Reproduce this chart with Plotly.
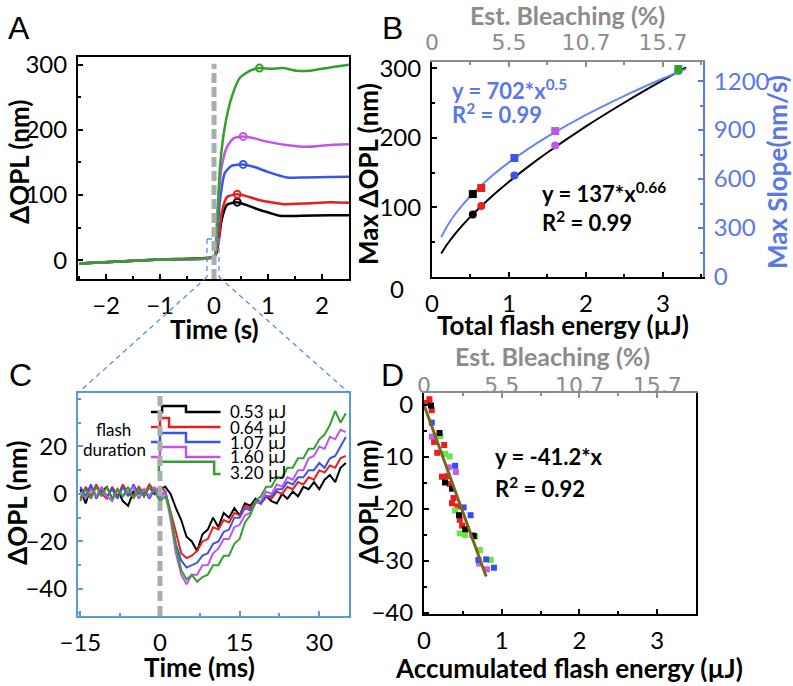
import plotly.graph_objects as go

W, H = 793, 686


def px(x):
    return x / W


def py(y):
    return 1 - y / H


# ---------------- Panel A data ----------------
a_black_t = [-2.5, -1.0, 0.0, 0.05, 0.1, 0.14, 0.24, 0.43, 0.65, 0.85, 1.05, 1.22, 1.6, 2.15, 2.5]
a_black_y = [-5, 1, 5, 12, 38, 61.5, 85, 89, 83, 77, 72, 68, 68, 69, 69]
a_red_t = [-2.5, -1.0, 0.0, 0.05, 0.1, 0.14, 0.24, 0.43, 0.65, 0.85, 1.05, 1.28, 1.7, 2.15, 2.5]
a_red_y = [-5, 1, 5, 14, 42, 72, 97, 101, 97, 92, 89, 86, 87, 89, 88]
a_blue_t = [-2.5, -1.0, 0.0, 0.05, 0.11, 0.2, 0.33, 0.54, 0.75, 0.98, 1.35, 1.7, 2.15, 2.5]
a_blue_y = [-5, 1, 5, 30, 92, 134, 145, 147, 143, 136, 127, 127, 127.5, 128]
a_mag_t = [-2.5, -1.0, 0.0, 0.04, 0.08, 0.14, 0.24, 0.36, 0.54, 0.75, 0.98, 1.41, 1.72, 2.15, 2.5]
a_mag_y = [-5, 1, 5, 40, 92, 143, 174, 187, 190, 187, 182, 176, 174, 177, 178]
a_green_t = [-2.5, -1.0, 0.0, 0.03, 0.05, 0.11, 0.2, 0.33, 0.48, 0.67, 0.84, 1.05, 1.28, 1.53, 1.78, 2.15, 2.5]
a_green_y = [-5, 1, 5, 15, 41, 143, 205, 251, 280, 291, 295, 294, 295, 291, 291, 296, 300]
a_peak_t = [0.43, 0.43, 0.54, 0.54, 0.84]
a_peak_y = [89, 101, 147, 190, 295]

# ---------------- Panel B data ----------------
b_energy = [0.53, 0.64, 1.07, 1.60, 3.20]
b_max_opl = [90, 102, 146, 189, 296]
b_max_slope = [508, 545, 729, 894, 1274]
b_fit_x = [0.12, 0.2, 0.3, 0.5, 0.75, 1, 1.25, 1.5, 2, 2.5, 3, 3.3]
b_fit_opl = [33.8, 47.4, 61.9, 86.7, 113.3, 137, 158.7, 179.0, 216.5, 250.8, 282.9, 301.3]
b_fit_slope = [243.2, 313.9, 384.5, 496.4, 607.9, 702, 784.9, 859.7, 992.8, 1110, 1215.9, 1275.3]
bleach_pos = [0, 1, 2, 3]
bleach_labels = ["0", "5.5", "10.7", "15.7"]

# ---------------- Panel C data ----------------
c_time = list(range(-15, 36))
c_black = [2, -4, 3, -1, 1, 3, -2, 2, -3, -5, 1, 2, -1, 3, 0, 2, 3, 0, -6, -11, -18, -20, -24, -17, -15, -10,
           -14, -8, -10, -6, -9, -4, -5, -2, -4, -1, -3, -4, 0, -2, 1, -1, 3, 2, 5, 2, 6, 8, 5, 11, 13]
c_red = [-2, 3, -1, 4, 0, -2, 3, -1, 4, 0, -1, 3, 0, 4, 1, 3, 1, -7, -16, -25, -27, -26, -24, -20, -19, -14,
         -15, -11, -12, -8, -9, -5, -6, -3, -4, -1, -2, 1, 0, 3, 2, 5, 4, 7, 6, 10, 9, 12, 11, 15, 16]
c_blue = [3, -1, 4, -2, 2, -1, 2, -2, 3, -1, 4, 0, 2, -2, 2, -1, 1, -9, -21, -28, -31, -30, -29, -26, -25, -21,
          -20, -16, -15, -10, -10, -6, -7, -3, -4, -1, -1, 2, 2, 5, 4, 7, 7, 10, 10, 13, 11, 15, 16, 20, 24]
c_mag = [1, -2, 2, -1, 3, -1, -3, 2, -1, 1, 3, -2, 2, -1, 3, -2, 1, -11, -25, -34, -38, -34, -34, -30, -30, -25,
         -23, -19, -19, -14, -13, -9, -8, -4, -3, 1, 0, 4, 3, 7, 6, 10, 10, 15, 16, 20, 19, 24, 23, 27, 26]
c_green = [-3, 2, -2, 3, -1, 3, -2, 2, -1, 3, -2, 2, -1, 3, 1, -3, -1, -8, -22, -32, -36, -34, -37, -35, -34, -30,
           -30, -26, -26, -21, -19, -12, -9, -3, -1, 3, 3, 7, 7, 11, 11, 15, 15, 19, 19, 23, 25, 29, 35, 30, 34]
c_energy_labels = ["0.53 µJ", "0.64 µJ", "1.07 µJ", "1.60 µJ", "3.20 µJ"]
# flash-duration step icons (x in ms, y in nm)
c_step_black_x = [-1.7, 0.4, 0.4, 4.9, 4.9, 11.4]
c_step_black_y = [34.5, 34.5, 37, 37, 34.5, 34.5]
c_step_red_x = [-1.7, 0.0, 0.0, 1.7, 1.7, 11.4]
c_step_red_y = [28.2, 28.2, 32, 32, 28.2, 28.2]
c_step_blue_x = [-1.7, 0.0, 0.0, 4.9, 4.9, 11.4]
c_step_blue_y = [21.9, 21.9, 25.7, 25.7, 21.9, 21.9]
c_step_mag_x = [-1.7, 0.0, 0.0, 4.9, 4.9, 11.4]
c_step_mag_y = [15.6, 15.6, 19.8, 19.8, 15.6, 15.6]
c_step_green_x = [-0.2, -0.2, 10.2, 10.2, 11.4]
c_step_green_y = [9.5, 13.5, 13.5, 8.4, 8.4]

# ---------------- Panel D data ----------------
d_black_x = [0.09, 0.20, 0.27, 0.36, 0.45, 0.53, 0.64]
d_black_y = [-0.1, -5.4, -14.9, -16.1, -21.2, -23.9, -25.2]
d_red_x = [0.03, 0.07, 0.10, 0.13, 0.17, 0.26, 0.23, 0.30, 0.33, 0.38, 0.36, 0.43, 0.46, 0.49]
d_red_y = [0.4, 1.1, -1.0, -7.1, -9.2, -7.7, -13.8, -13.7, -15.2, -17.9, -18.9, -19.5, -22.1, -23.2]
d_blue_x = [0.10, 0.40, 0.51, 0.60, 0.70, 0.80, 0.90]
d_blue_y = [-3.4, -11.7, -19.7, -21.2, -29.8, -29.7, -31.3]
d_mag_x = [0.10, 0.32, 0.41, 0.62, 0.71, 0.81]
d_mag_y = [-6.1, -12.0, -12.9, -25.0, -30.5, -31.6]
d_green_x = [0.21, 0.27, 0.33, 0.40, 0.46, 0.53, 0.66, 0.72, 0.86]
d_green_y = [-6.0, -9.4, -9.9, -20.3, -24.7, -25.0, -25.3, -27.9, -29.8]
d_fit_x = [0, 0.8]
d_fit_y = [0, -33]

# ---------------- styles ----------------
BLACK = "#000000"
RED = "#e81e1e"
BLUE = "#3a55e6"
MAG = "#bf55ec"
GREEN = "#33a02c"
LGREEN = "#66e844"
AXBLUE = "#5a78e6"
CBOX = "#5b9bd5"
GRAY = "#8c8c8c"
FONT = "Lato"

fig = go.Figure()

# Panel A traces
for t, y, c in [(a_black_t, a_black_y, BLACK), (a_red_t, a_red_y, RED), (a_blue_t, a_blue_y, BLUE),
                (a_mag_t, a_mag_y, MAG), (a_green_t, a_green_y, GREEN)]:
    fig.add_trace(go.Scatter(x=t, y=y, mode="lines", line=dict(color=c, width=2.5, shape="spline", smoothing=0.6),
                             xaxis="x", yaxis="y", showlegend=False, hoverinfo="skip"))
fig.add_trace(go.Scatter(x=a_peak_t, y=a_peak_y, mode="markers",
                         marker=dict(symbol="circle-open", size=7, line=dict(width=2),
                                     color=[BLACK, RED, BLUE, MAG, GREEN]),
                         xaxis="x", yaxis="y", showlegend=False, hoverinfo="skip"))

# Panel B traces
pt_colors = [BLACK, RED, BLUE, MAG, GREEN]
fig.add_trace(go.Scatter(x=b_fit_x, y=b_fit_opl, mode="lines", line=dict(color=BLACK, width=2, shape="spline"),
                         xaxis="x2", yaxis="y2", showlegend=False, hoverinfo="skip"))
fig.add_trace(go.Scatter(x=b_energy, y=b_max_opl, mode="markers",
                         marker=dict(symbol="circle", size=8, color=pt_colors),
                         xaxis="x2", yaxis="y2", showlegend=False, hoverinfo="skip"))
fig.add_trace(go.Scatter(x=[], y=[], xaxis="x3", yaxis="y2", showlegend=False, hoverinfo="skip"))
fig.add_trace(go.Scatter(x=b_fit_x, y=b_fit_slope, mode="lines", line=dict(color="#6688ee", width=2, shape="spline"),
                         xaxis="x2", yaxis="y3", showlegend=False, hoverinfo="skip"))
fig.add_trace(go.Scatter(x=b_energy, y=b_max_slope, mode="markers",
                         marker=dict(symbol="square", size=8, color=pt_colors),
                         xaxis="x2", yaxis="y3", showlegend=False, hoverinfo="skip"))

# Panel C traces
for y, c in [(c_black, BLACK), (c_red, RED), (c_blue, BLUE), (c_mag, MAG), (c_green, GREEN)]:
    fig.add_trace(go.Scatter(x=c_time, y=y, mode="lines", line=dict(color=c, width=2),
                             xaxis="x4", yaxis="y4", showlegend=False, hoverinfo="skip"))
for sx, sy, c in [(c_step_black_x, c_step_black_y, BLACK), (c_step_red_x, c_step_red_y, RED),
                  (c_step_blue_x, c_step_blue_y, BLUE), (c_step_mag_x, c_step_mag_y, MAG),
                  (c_step_green_x, c_step_green_y, GREEN)]:
    fig.add_trace(go.Scatter(x=sx, y=sy, mode="lines", line=dict(color=c, width=2.5),
                             xaxis="x4", yaxis="y4", showlegend=False, hoverinfo="skip"))

# Panel D traces
for x, y, c in [(d_red_x, d_red_y, "#ee1c1c"), (d_green_x, d_green_y, LGREEN), (d_mag_x, d_mag_y, "#c35fe8"),
                (d_blue_x, d_blue_y, "#2f4fff"), (d_black_x, d_black_y, BLACK)]:
    fig.add_trace(go.Scatter(x=x, y=y, mode="markers", marker=dict(symbol="square", size=6, color=c),
                             xaxis="x5", yaxis="y5", showlegend=False, hoverinfo="skip"))
fig.add_trace(go.Scatter(x=d_fit_x, y=d_fit_y, mode="lines", line=dict(color="#7a6520", width=3),
                         xaxis="x5", yaxis="y5", showlegend=False, hoverinfo="skip"))
fig.add_trace(go.Scatter(x=[], y=[], xaxis="x6", yaxis="y5", showlegend=False, hoverinfo="skip"))

tickfont = dict(family=FONT, size=24, color=BLACK)


def ax(**kw):
    base = dict(showgrid=False, zeroline=False, ticks="inside", ticklen=5, tickwidth=1.5,
                showline=True, linewidth=2, linecolor=BLACK, tickcolor=BLACK, tickfont=tickfont,
                ticklabelstandoff=4, automargin=False)
    base.update(kw)
    return base


A_X = [px(78), px(349)]
A_Y = [py(279), py(57)]
B_X = [px(432), px(703)]
B_Y = [py(277), py(62)]
C_X = [px(78), px(349)]
C_Y = [py(616), py(393)]
D_X = [px(424), px(696)]
D_Y = [py(614), py(393)]

fig.update_layout(
    template="none",
    width=W, height=H, autosize=False,
    margin=dict(l=0, r=0, t=0, b=0, pad=0),
    paper_bgcolor="white", plot_bgcolor="white",
    font=dict(family=FONT, color=BLACK),
    xaxis=ax(domain=A_X, anchor="y", range=[-2.52, 2.5], tickvals=[-2, -1, 0, 1, 2], mirror=True,
             minor=dict(ticks="inside", dtick=0.5, tick0=0, ticklen=3, tickcolor=BLACK)),
    yaxis=ax(domain=A_Y, anchor="x", range=[-29, 312], tickvals=[0, 100, 200, 300], mirror=True,
             minor=dict(ticks="inside", dtick=50, tick0=0, ticklen=3, tickcolor=BLACK)),
    xaxis2=ax(domain=B_X, anchor="y2", range=[0, 3.52], tickvals=[0, 1, 2, 3],
              minor=dict(ticks="inside", dtick=0.5, tick0=0, ticklen=3, tickcolor=BLACK)),
    yaxis2=ax(domain=B_Y, anchor="x2", range=[0, 309], tickvals=[100, 200, 300],
              minor=dict(ticks="inside", dtick=50, tick0=0, ticklen=3, tickcolor=BLACK)),
    xaxis3=ax(overlaying="x2", anchor="y2", side="top", range=[0, 3.52], tickvals=bleach_pos,
              ticktext=bleach_labels, linecolor=GRAY, tickcolor=GRAY, ticklabelstandoff=1,
              tickfont=dict(family="DejaVu Sans", size=22, color=GRAY),
              minor=dict(ticks="inside", dtick=0.5, tick0=0, ticklen=3, tickcolor=GRAY)),
    yaxis3=ax(overlaying="y2", anchor="x2", side="right", range=[0, 1317],
              tickvals=[0, 300, 600, 900, 1200], linecolor=AXBLUE, tickcolor=AXBLUE,
              tickfont=dict(family=FONT, size=24, color=AXBLUE),
              minor=dict(ticks="inside", dtick=150, tick0=0, ticklen=3, tickcolor=AXBLUE)),
    xaxis4=ax(domain=C_X, anchor="y4", range=[-15.44, 35.6], tickvals=[-15, 0, 15, 30], mirror=True,
              linecolor=CBOX, tickcolor=CBOX,
              minor=dict(ticks="inside", dtick=7.5, tick0=0, ticklen=3, tickcolor=CBOX)),
    yaxis4=ax(domain=C_Y, anchor="x4", range=[-51.4, 42.5], tickvals=[-40, -20, 0, 20], mirror=True,
              linecolor=CBOX, tickcolor=CBOX,
              minor=dict(ticks="inside", dtick=10, tick0=0, ticklen=3, tickcolor=CBOX)),
    xaxis5=ax(domain=D_X, anchor="y5", range=[0, 3.5], tickvals=[0, 1, 2, 3],
              minor=dict(ticks="inside", dtick=0.5, tick0=0, ticklen=3, tickcolor=BLACK)),
    yaxis5=ax(domain=D_Y, anchor="x5", range=[-40.2, 2.3], tickvals=[0, -10, -20, -30, -40], mirror=True,
              minor=dict(ticks="inside", dtick=5, tick0=0, ticklen=3, tickcolor=BLACK)),
    xaxis6=ax(overlaying="x5", anchor="y5", side="top", range=[0, 3.5], tickvals=bleach_pos,
              ticktext=bleach_labels, linecolor=GRAY, tickcolor=GRAY, ticklabelstandoff=-11,
              tickfont=dict(family="DejaVu Sans", size=22, color=GRAY),
              minor=dict(ticks="inside", dtick=0.5, tick0=0, ticklen=3, tickcolor=GRAY)),
)

shapes = []
# gray dashed stimulus lines
shapes.append(dict(type="line", xref="x", yref="y domain", x0=0, x1=0, y0=0, y1=0.97,
                   line=dict(color="#a8aeae", width=5, dash="10px,4px")))
shapes.append(dict(type="line", xref="x4", yref="y4 domain", x0=0, x1=0, y0=0, y1=1,
                   line=dict(color="#a8aeae", width=5, dash="10px,5px")))
# zoom box and connector lines
zl = dict(color="#5b8de0", width=1.3, dash="5px,4px")
for (x0, y0, x1, y1) in [(207, 239, 207, 277), (207, 239, 219, 239), (219, 239, 219, 277),
                         (207, 277, 78, 393), (219, 277, 349, 393)]:
    shapes.append(dict(type="line", xref="paper", yref="paper", x0=px(x0), y0=py(y0), x1=px(x1), y1=py(y1),
                       line=zl))
fig.update_layout(shapes=shapes)

ann = []


def text(x, y, s, size=26, bold=True, color=BLACK, angle=0, xanchor="center", family=FONT):
    ann.append(dict(x=px(x), y=py(y), xref="paper", yref="paper", text=s, showarrow=False,
                    textangle=angle, xanchor=xanchor, yanchor="middle",
                    font=dict(family=family, size=size, color=color, weight="bold" if bold else "normal")))


# panel letters
for lx, ly, s in [(19, 28, "A"), (392, 28, "B"), (20, 375, "C"), (392, 375, "D")]:
    text(lx, ly, s, size=32, bold=False, family="Liberation Sans")

# Panel A titles
text(19, 162, "ΔOPL (nm)", angle=-90)
text(214, 329, "Time (s)")
# Panel B titles
text(368, 174, "Max ΔOPL (nm)", angle=-90)
text(777, 172, "Max Slope(nm/s)", angle=-90, color=AXBLUE)
text(563, 325, "Total flash energy (µJ)")
text(567, 15, "Est. Bleaching (%)", size=25, color=GRAY)
text(397, 288, "0", size=24, bold=False)
text(450, 90, "y = 702*x<sup>0.5</sup>", size=22, color=AXBLUE, xanchor="left")
text(450, 113, "R<sup>2</sup> = 0.99", size=22, color=AXBLUE, xanchor="left")
text(540, 193, "y = 137*x<sup>0.66</sup>", size=22, xanchor="left")
text(540, 221, "R<sup>2</sup> = 0.99", size=22, xanchor="left")
# Panel C titles
text(17, 503, "ΔOPL (nm)", angle=-90)
text(199, 667, "Time (ms)")
text(113, 429, "flash", size=17, bold=False)
text(114, 449, "duration", size=17, bold=False)
for lab, yy in zip(c_energy_labels, [411, 427, 442, 457, 473]):
    text(228, yy, lab, size=17, bold=False, xanchor="left")
# Panel D titles
text(368, 502, "ΔOPL (nm)", angle=-90)
text(569, 668, "Accumulated flash energy (µJ)")
text(552, 356, "Est. Bleaching (%)", size=25, color=GRAY)
text(493, 457, "y = -41.2*x", size=22, xanchor="left")
text(493, 487, "R<sup>2</sup> = 0.92", size=22, xanchor="left")

fig.update_layout(annotations=ann)

fig.write_html("out.html", config={"displayModeBar": False},
               post_script="document.body.style.margin='0';")
